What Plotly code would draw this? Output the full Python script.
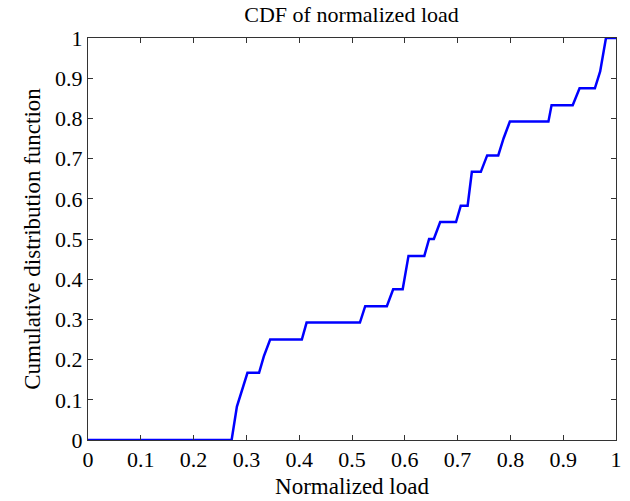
import plotly.graph_objects as go

load = [0.0, 0.272, 0.282, 0.302, 0.324, 0.333, 0.345, 0.405, 0.414, 0.515, 0.525,
        0.566, 0.578, 0.596, 0.607, 0.637, 0.646, 0.655, 0.667, 0.697, 0.706,
        0.719, 0.727, 0.744, 0.756, 0.777, 0.787, 0.799, 0.872, 0.878, 0.918,
        0.931, 0.960, 0.970, 0.981, 1.0]
cdf = [0.0, 0.0, 0.083, 0.167, 0.167, 0.208, 0.25, 0.25, 0.292, 0.292, 0.333,
       0.333, 0.375, 0.375, 0.458, 0.458, 0.5, 0.5, 0.542, 0.542, 0.583,
       0.583, 0.667, 0.667, 0.708, 0.708, 0.75, 0.792, 0.792, 0.833, 0.833,
       0.875, 0.875, 0.917, 1.0, 1.0]
xticks = [0, 0.1, 0.2, 0.3, 0.4, 0.5, 0.6, 0.7, 0.8, 0.9, 1]
yticks = [0, 0.1, 0.2, 0.3, 0.4, 0.5, 0.6, 0.7, 0.8, 0.9, 1]

font = "Liberation Serif, Times New Roman, serif"

fig = go.Figure(go.Scatter(x=load, y=cdf, mode="lines",
                           line=dict(color="#0000ff", width=2.5),
                           showlegend=False, cliponaxis=False))

axis_common = dict(showgrid=False, zeroline=False, showline=True, linecolor="#333333",
                   linewidth=1, mirror="ticks", ticks="inside", ticklen=5,
                   tickcolor="#333333", tickfont=dict(family=font, size=22, color="black"),
                   range=[0, 1], automargin=False)

fig.update_xaxes(tickvals=xticks, ticktext=[f"{v:g}" for v in xticks],
                 title=dict(text="Normalized load", font=dict(family=font, size=23, color="black"),
                            standoff=6), **axis_common)
fig.update_yaxes(tickvals=yticks, ticktext=[f"{v:g}" for v in yticks],
                 title=dict(text="Cumulative distribution function",
                            font=dict(family=font, size=23, color="black"), standoff=8),
                 **axis_common)

fig.update_layout(
    width=630, height=501,
    margin=dict(l=88, r=14, t=38, b=61),
    paper_bgcolor="white", plot_bgcolor="white",
    title=dict(text="CDF of normalized load", x=0.558, xanchor="center", y=0.972, yanchor="middle",
               font=dict(family=font, size=22, color="black")),
)

fig.write_html("out.html")
